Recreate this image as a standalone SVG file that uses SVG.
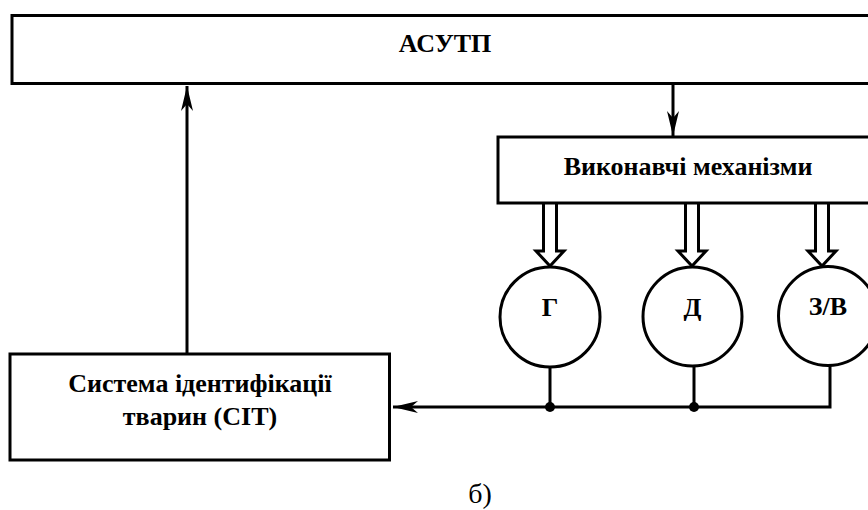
<svg xmlns="http://www.w3.org/2000/svg" width="868" height="510" viewBox="0 0 868 510">
<style>
.box{fill:#fff;stroke:#000;stroke-width:3}
.ln{fill:none;stroke:#000;stroke-width:3}
.ha{fill:#fff;stroke:#000;stroke-width:3;stroke-linejoin:miter}
.lb{font-family:"Liberation Serif","Times New Roman",serif;font-weight:bold;font-size:26px;text-anchor:middle;fill:#000}
.cap{font-family:"Liberation Serif","Times New Roman",serif;font-size:28px;text-anchor:middle;fill:#000}
</style>
<defs>
<marker id="ah" markerUnits="userSpaceOnUse" markerWidth="30" markerHeight="16" viewBox="-26 -8 28 16" refX="0" refY="0" orient="auto">
<path d="M0,0 L-25,-6 L-18,0 L-25,6 Z" fill="#000"/>
</marker>
</defs>
<g id="connectors">
<line class="ln" x1="187" y1="354" x2="187" y2="86" marker-end="url(#ah)"/>
<line class="ln" x1="673" y1="84" x2="673" y2="136" marker-end="url(#ah)"/>
<polyline class="ln" points="550,367 550,407"/>
<polyline class="ln" points="694,366 694,407"/>
<polyline class="ln" points="830,365 830,407 550,407"/>
<line class="ln" x1="550" y1="407" x2="393" y2="407" marker-end="url(#ah)"/>
<circle cx="550" cy="407" r="5" fill="#000"/>
<circle cx="694" cy="407" r="5" fill="#000"/>
<path class="ha" d="M543.5,204 L543.5,251 L536,251 L550,266 L564,251 L556.5,251 L556.5,204"/>
<path class="ha" d="M685.5,204 L685.5,251 L678,251 L692,266 L706,251 L698.5,251 L698.5,204"/>
<path class="ha" d="M815.5,204 L815.5,251 L808,251 L822,266 L836,251 L828.5,251 L828.5,204"/>
</g>
<g id="asutp">
<rect class="box" x="12" y="15.5" width="870" height="68"/>
<text class="lb" x="445" y="52">АСУТП</text>
</g>
<g id="vykonavchi">
<rect class="box" x="498" y="137" width="384" height="66"/>
<text class="lb" x="688" y="175">Виконавчі механізми</text>
</g>
<g id="g">
<circle class="box" cx="550" cy="317" r="50"/>
<text class="lb" x="550" y="316">Г</text>
</g>
<g id="d">
<circle class="box" cx="692.5" cy="316.5" r="49.5"/>
<text class="lb" x="692.5" y="316">Д</text>
</g>
<g id="zv">
<circle class="box" cx="828" cy="316" r="49.5"/>
<text class="lb" x="828" y="315">З/В</text>
</g>
<g id="sit">
<rect class="box" x="10" y="354" width="379.5" height="106"/>
<text class="lb" x="200" y="392">Система ідентифікації</text>
<text class="lb" x="200" y="425">тварин (СІТ)</text>
</g>
<text class="cap" x="480" y="503">б)</text>
</svg>
